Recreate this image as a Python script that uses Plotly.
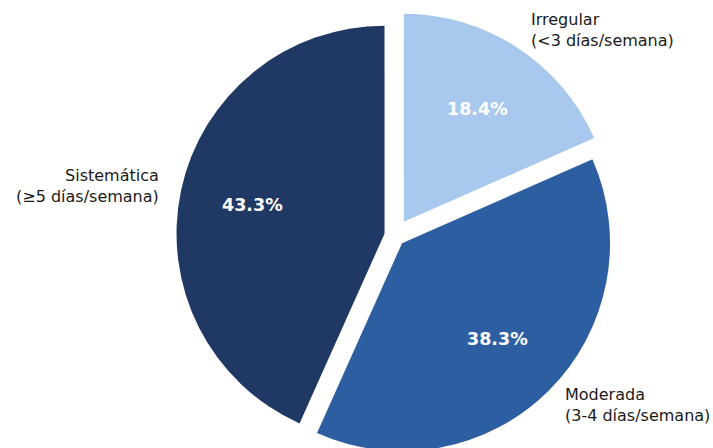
import math
import plotly.graph_objects as go

categories = ["Irregular<br>(<3 días/semana)", "Moderada<br>(3-4 días/semana)", "Sistemática<br>(≥5 días/semana)"]
values = [18.4, 38.3, 43.3]
pulls = [0.08, 0.05, 0.05]
colors = ["#A9C8EE", "#2E5EA2", "#1F3864"]

W, H = 713, 461          # page window is 448 tall; extra rows are hidden below
CX, CY, R = 394.7, 235.8, 208
LABEL_DIST = 1.1
PCT_DIST = 0.65

maxpull = max(pulls)
half = R * (1 + maxpull)

fig = go.Figure(go.Pie(
    labels=categories,
    values=values,
    sort=False,
    direction="clockwise",
    rotation=0,
    pull=pulls,
    marker=dict(colors=colors, line=dict(width=0)),
    textinfo="none",
    hoverinfo="label+percent",
    showlegend=False,
    domain=dict(x=[(CX - half) / W, (CX + half) / W],
                y=[max(0, 1 - (CY + half) / H), 1 - (CY - half) / H]),
))

# category labels and percentages placed from the pie geometry
total = sum(values)
cum = 0
annotations = []
for lab, v, p in zip(categories, values, pulls):
    mid = math.radians((cum + v / 2) / total * 360)
    cum += v
    s, c = math.sin(mid), math.cos(mid)
    ecx = CX + p * R * s
    ecy = CY - p * R * c
    lx = ecx + LABEL_DIST * R * s
    ly = ecy - LABEL_DIST * R * c
    annotations.append(dict(
        x=lx / W, y=1 - ly / H, xref="paper", yref="paper",
        text=lab, showarrow=False,
        xanchor="left" if s > 0 else "right", yanchor="middle",
        align="left" if s > 0 else "right",
        font=dict(family="DejaVu Sans", size=16, color="#1a1a1a"),
    ))
    px = ecx + PCT_DIST * R * s
    py = ecy - PCT_DIST * R * c
    annotations.append(dict(
        x=px / W, y=1 - py / H, xref="paper", yref="paper",
        text=f"{v / total * 100:.1f}%", showarrow=False,
        xanchor="center", yanchor="middle",
        font=dict(family="DejaVu Sans", size=17.5, color="white", weight="bold"),
    ))

fig.update_layout(
    width=W, height=H,
    margin=dict(l=0, r=0, t=0, b=0),
    paper_bgcolor="white",
    plot_bgcolor="white",
    annotations=annotations,
)

fig.write_html(
    "out.html",
    config={"displayModeBar": False},
    post_script="document.body.style.margin='0';"
                "document.body.style.overflow='hidden';"
                "document.documentElement.style.overflow='hidden';",
)
